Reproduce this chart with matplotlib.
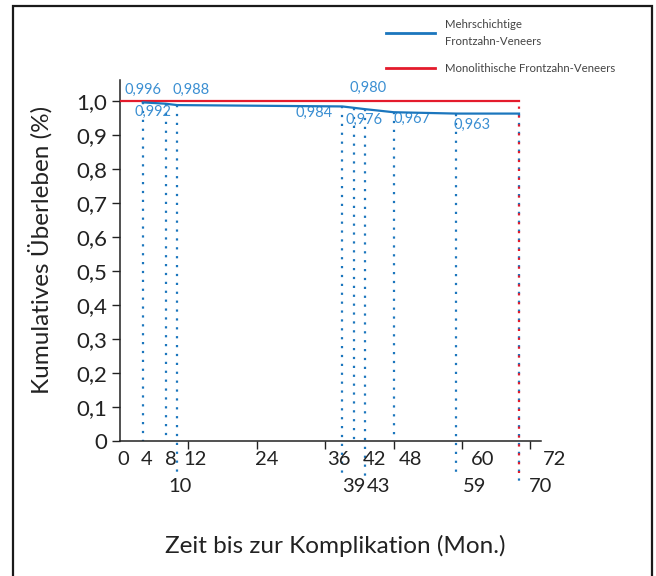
import matplotlib.pyplot as plt
from matplotlib.lines import Line2D
from matplotlib.patches import Rectangle

plt.rcParams['font.family'] = ['Lato', 'DejaVu Sans']

# --- Daten ---
monate = [4, 8, 10, 39, 41, 43, 48, 59, 70]
ueberleben = [0.996, 0.992, 0.988, 0.984, 0.980, 0.976, 0.967, 0.963, 0.963]
beschriftet = [True, True, True, True, True, True, True, True, False]
mono_monate = [0, 70]
mono_ueberleben = [1.0, 1.0]

x_ticks = [12, 24, 36, 48, 60, 72]
x_labels_oben = [0, 4, 8, 12, 24, 36, 42, 48, 60, 72]
x_labels_unten = [10, 39, 43, 59, 70]
y_ticks = [0, 0.1, 0.2, 0.3, 0.4, 0.5, 0.6, 0.7, 0.8, 0.9, 1.0]

# --- Layout ---
blau = '#1b76bd'
blau_text = '#3b8fd2'
rot = '#e41b2c'
dunkel = '#222222'
# Versatz der Wertbeschriftungen (Punkte) und Ende der gepunkteten Linien
label_offset = [(0, 9), (-9, -6), (10, 11), (-20, -5), (10, 14), (-1, -8), (13, -5), (11, -8), (0, 0)]
linie_ende = [0, 0, -0.105, -0.1, 0, -0.105, 0, -0.1, -0.12]

fig = plt.figure(figsize=(6.56, 5.76), dpi=100)
ax = fig.add_axes([120 / 656, 1 - 441 / 576, 421 / 656, 361 / 576])
ax.set_xlim(0, 421 / 5.7)
ax.set_ylim(0, 361 / 340)

ax.plot(mono_monate, mono_ueberleben, color=rot, lw=1.6, zorder=3)
ax.plot(monate, ueberleben, color=blau, lw=1.6, zorder=4)

for m, s, ende in zip(monate, ueberleben, linie_ende):
    ax.plot([m, m], [s, ende], color=blau, lw=1.6, ls=(0, (1, 3)),
            clip_on=False, zorder=2)
ax.plot([mono_monate[-1], mono_monate[-1]], [mono_ueberleben[-1], -0.095],
        color=rot, lw=1.6, ls=(1.5, (1, 3)), clip_on=False, zorder=3)

for m, s, ok, (dx, dy) in zip(monate, ueberleben, beschriftet, label_offset):
    if ok:
        ax.annotate(f'{s:.3f}'.replace('.', ','), (m, s), xytext=(dx, dy),
                    textcoords='offset points', ha='center', va='center',
                    color=blau_text, fontsize=10.5)

for sp in ['top', 'right']:
    ax.spines[sp].set_visible(False)
for sp in ['left', 'bottom']:
    ax.spines[sp].set_linewidth(1.1)
    ax.spines[sp].set_color(dunkel)

ax.set_xticks(x_ticks)
ax.set_xticklabels([])
ax.tick_params(axis='x', direction='out', length=6, width=1.0, color=dunkel)
ax.set_yticks(y_ticks)
ax.set_yticklabels([('0' if v == 0 else f'{v:.1f}'.replace('.', ',')) for v in y_ticks],
                   fontsize=16, color=dunkel)
ax.tick_params(axis='y', direction='out', length=6, width=1.0, pad=3, color=dunkel)

# Achsenbeschriftung: leicht gestreckt wie im Original
def lx(m):
    return 0.53 + 1.0526 * m

for m in x_labels_oben:
    ax.text(lx(m), -0.055, str(m), ha='center', va='center', fontsize=14.5, color=dunkel)
for m in x_labels_unten:
    ax.text(lx(m) - 0.5, -0.135, str(m), ha='center', va='center', fontsize=14.5, color=dunkel)

fig.text(40 / 656, 1 - 250 / 576, 'Kumulatives Überleben (%)', rotation=90,
         ha='center', va='center', fontsize=17.5, color=dunkel)
fig.text(335 / 656, 1 - 546 / 576, 'Zeit bis zur Komplikation (Mon.)',
         ha='center', va='center', fontsize=17.5, color=dunkel)

handles = [Line2D([], [], color=blau, lw=2), Line2D([], [], color=rot, lw=2)]
leg = fig.legend(handles, ['Mehrschichtige\nFrontzahn-Veneers', 'Monolithische Frontzahn-Veneers'],
                 loc='upper left', bbox_to_anchor=(376 / 656, 1 - 9 / 576), frameon=False,
                 fontsize=8.2, handlelength=4.3, handletextpad=0.9, labelspacing=1.4,
                 labelcolor='#444444')
for t in leg.get_texts():
    t.set_linespacing(1.6)

fig.patches.append(Rectangle((13 / 656, -0.05), 639 / 656, 1.05 - 6 / 576,
                             transform=fig.transFigure, fill=False,
                             edgecolor='#1a1a1a', lw=1.6))

fig.savefig('out.png', dpi=100)
